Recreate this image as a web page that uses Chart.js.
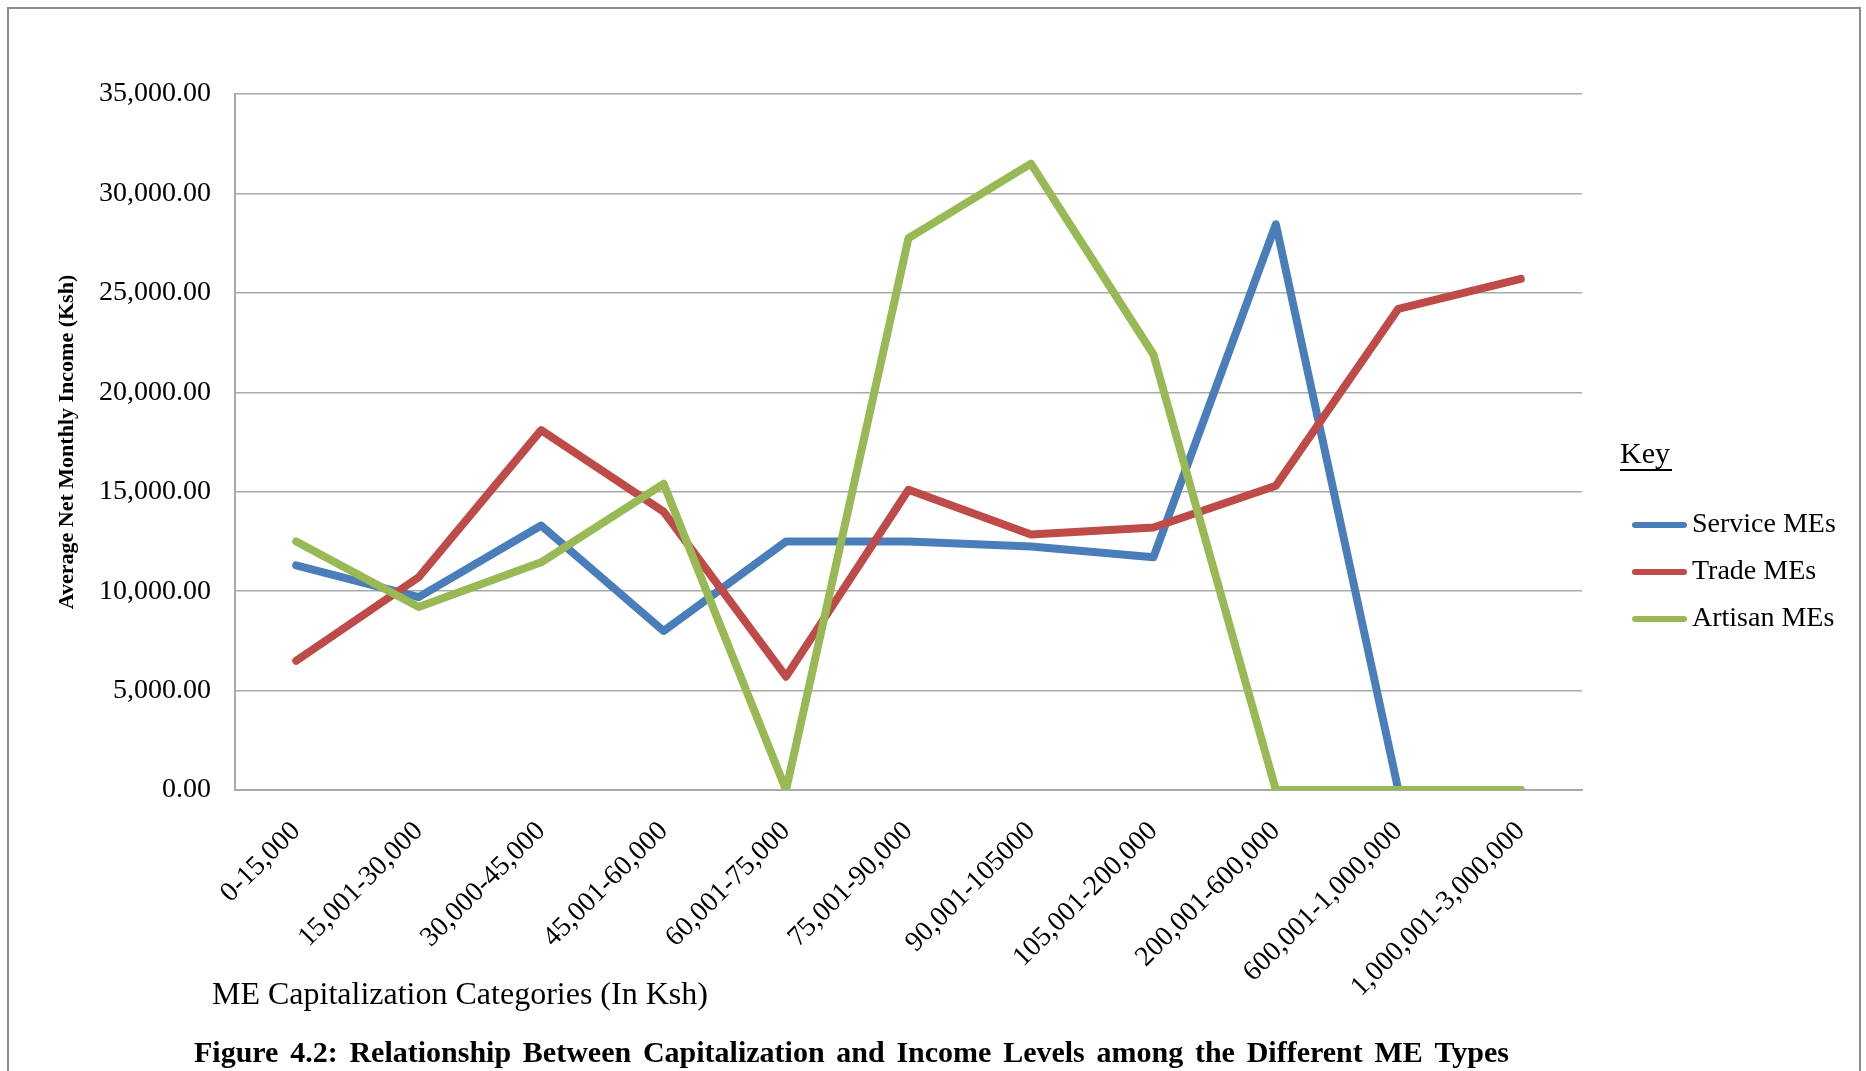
<!DOCTYPE html>
<html>
<head>
<meta charset="utf-8">
<script src="https://cdn.jsdelivr.net/npm/chart.js@4.4.1/dist/chart.umd.min.js"></script>
<style>
  html, body { margin: 0; padding: 0; background: #ffffff; }
  #wrap { position: relative; width: 1866px; height: 1071px; }
</style>
</head>
<body>
<div id="wrap"><canvas id="chart"></canvas></div>
<script>
// Capitalization bands (Ksh)
const categories = [
  '0-15,000', '15,001-30,000', '30,000-45,000', '45,001-60,000', '60,001-75,000',
  '75,001-90,000', '90,001-105000', '105,001-200,000', '200,001-600,000',
  '600,001-1,000,000', '1,000,001-3,000,000'
];

// Average net monthly income (Ksh) per ME type
const serviceMEs = [11300, 9700, 13300, 8000, 12500, 12500, 12250, 11700, 28450, 0, 0];
const tradeMEs   = [6500, 10700, 18100, 14000, 5700, 15100, 12850, 13200, 15300, 24200, 25700];
const artisanMEs = [12500, 9200, 11450, 15400, 0, 27750, 31500, 21900, 0, 0, 0];

const seriesNames  = ['Service MEs', 'Trade MEs', 'Artisan MEs'];
const seriesColors = ['#4A7EBB', '#BE4B48', '#98B954'];

// Value axis ticks
const yTicks = [0, 5000, 10000, 15000, 20000, 25000, 30000, 35000];

const yTitle = 'Average Net Monthly Income (Ksh)';
const xTitle = 'ME Capitalization Categories (In Ksh)';
const legendTitle = 'Key';
const caption = 'Figure 4.2: Relationship Between Capitalization and Income Levels among the Different ME Types';

const SERIF = '"Liberation Serif", "Times New Roman", serif';
const GRID = '#a9a9a9';

function fmt(v) {
  return Number(v).toLocaleString('en-US', { minimumFractionDigits: 2, maximumFractionDigits: 2 });
}

// Draws words spread out to fill a given width
function justifiedText(ctx, text, x, y, width) {
  const words = text.split(' ');
  const wordsWidth = words.reduce((s, w) => s + ctx.measureText(w).width, 0);
  const gap = (width - wordsWidth) / (words.length - 1);
  let cx = x;
  words.forEach(w => {
    ctx.fillText(w, cx, y);
    cx += ctx.measureText(w).width + gap;
  });
}

// Frame, x-axis title, caption and the "Key" legend
const decorations = {
  id: 'decorations',
  beforeDraw(chart) {
    const ctx = chart.ctx;
    ctx.save();
    ctx.strokeStyle = '#8a8a8a';
    ctx.lineWidth = 2;
    ctx.strokeRect(8, 8, 1852, 1120);
    ctx.restore();
  },
  afterDraw(chart) {
    const ctx = chart.ctx;
    const area = chart.chartArea;
    ctx.save();
    ctx.fillStyle = '#000';

    // x-axis title, left aligned under the labels
    ctx.font = '32px ' + SERIF;
    ctx.textAlign = 'left';
    ctx.textBaseline = 'middle';
    ctx.fillText(xTitle, area.left - 23, 996);

    // caption
    ctx.font = 'bold 30px ' + SERIF;
    justifiedText(ctx, caption, 194, 1054, 1315);

    // legend
    const lx = area.right + 38;
    ctx.font = '30px ' + SERIF;
    ctx.textBaseline = 'middle';
    ctx.fillText(legendTitle, lx, 455);
    const kw = ctx.measureText(legendTitle).width;
    ctx.fillRect(lx, 469, kw + 2, 2);

    ctx.font = '28px ' + SERIF;
    chart.data.datasets.forEach((ds, i) => {
      const y = 525 + i * 47;
      ctx.strokeStyle = ds.borderColor;
      ctx.lineWidth = 6;
      ctx.lineCap = 'round';
      ctx.beginPath();
      ctx.moveTo(lx + 15, y);
      ctx.lineTo(lx + 64, y);
      ctx.stroke();
      ctx.fillText(ds.label, lx + 72, y);
    });
    ctx.restore();
  }
};

const seriesValues = [serviceMEs, tradeMEs, artisanMEs];
const datasets = seriesValues.map((vals, i) => ({
  label: seriesNames[i],
  data: vals,
  borderColor: seriesColors[i],
  backgroundColor: seriesColors[i],
  borderWidth: 8,
  tension: 0,
  pointRadius: 0,
  pointHoverRadius: 0,
  borderJoinStyle: 'round',
  borderCapStyle: 'round',
  fill: false,
  order: 3 - i
}));

new Chart(document.getElementById('chart'), {
  type: 'line',
  data: { labels: categories, datasets },
  options: {
    responsive: true,
    maintainAspectRatio: false,
    animation: false,
    layout: { padding: { left: 0, top: 94, right: 284, bottom: 0 } },
    plugins: {
      legend: { display: false },
      title: { display: false },
      tooltip: { enabled: false }
    },
    scales: {
      x: {
        offset: true,
        grid: { display: false, drawTicks: false },
        border: { display: true, color: GRID, width: 2 },
        ticks: {
          color: '#000',
          font: { family: SERIF, size: 28 },
          minRotation: 45,
          maxRotation: 45,
          autoSkip: false,
          padding: 25
        },
        afterFit(scale) { scale.height = 1071 - 790; }
      },
      y: {
        min: 0,
        max: 35000,
        afterBuildTicks(scale) { scale.ticks = yTicks.map(v => ({ value: v })); },
        grid: { color: GRID, lineWidth: 1.5, drawTicks: false },
        border: { display: true, color: GRID, width: 2 },
        ticks: {
          color: '#000',
          font: { family: SERIF, size: 28 },
          padding: 24,
          callback: v => fmt(v)
        },
        title: {
          display: true,
          text: yTitle,
          color: '#000',
          font: { family: SERIF, size: 22, weight: 'bold' },
          padding: { top: 54, bottom: 0 }
        },
        afterFit(scale) { scale.width = 235; }
      }
    }
  },
  plugins: [decorations]
});
</script>
</body>
</html>
